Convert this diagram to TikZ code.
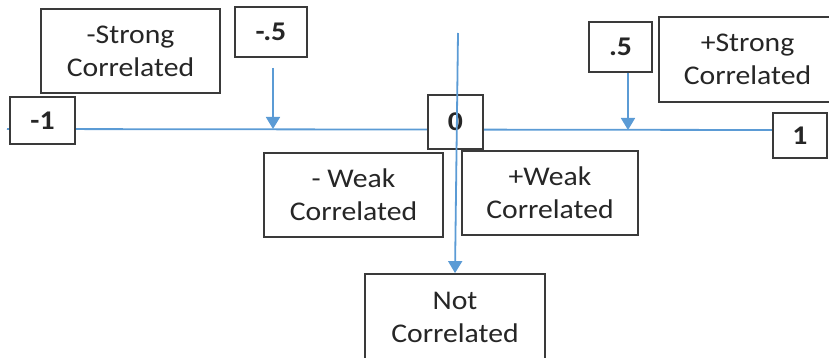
\documentclass[tikz,border=0pt]{standalone}
\usepackage{fontspec}
\setmainfont{Carlito}[FakeStretch=1.1]
\usetikzlibrary{arrows.meta}
\definecolor{lineblue}{HTML}{5B9BD5}
\definecolor{boxgray}{HTML}{3A3A3A}
\definecolor{txt}{HTML}{262626}
\tikzset{
  lbl/.style={draw=boxgray, line width=1.8pt, fill=white, text=txt, align=center,
    font=\fontsize{27}{33}\selectfont, inner sep=0pt},
  num/.style={draw=boxgray, line width=2pt, fill=white, text=txt, align=center,
    font=\fontsize{27}{30}\selectfont\bfseries, inner sep=0pt},
  axis/.style={draw=lineblue, line width=1.8pt},
  arr/.style={draw=lineblue, line width=1.8pt, -{Triangle[width=14pt,length=12pt]}},
}
\begin{document}
\begin{tikzpicture}[x=1pt,y=-1pt]
\useasboundingbox (0,0) rectangle (829,358);
% axis line (behind boxes)
\coordinate (lstart) at (7,129);
\coordinate (lend) at (775,130);
\draw[axis] (lstart) -- (lend);
% nodes
\node[lbl, minimum width=179pt, minimum height=84pt] (sneg) at (130.5,51) {-Strong\\Correlated};
\node[num, minimum width=72pt, minimum height=50pt] (mhalf) at (271,32) {-.5};
\node[num, minimum width=65pt, minimum height=47pt] (m1) at (42.5,120.5) {-1};
\node[num, minimum width=55pt, minimum height=54pt] (zero) at (455.5,122) {0};
\node[num, minimum width=63pt, minimum height=50pt] (phalf) at (620.5,47) {.5};
\node[lbl, minimum width=177pt, minimum height=85pt] (spos) at (747.5,59.5) {+Strong\\Correlated};
\node[num, minimum width=54pt, minimum height=45pt] (p1) at (800,135.5) {1};
\node[lbl, minimum width=179pt, minimum height=84pt] (wneg) at (353.5,195) {- Weak\\Correlated};
\node[lbl, minimum width=176pt, minimum height=84pt] (wpos) at (550,193) {+Weak\\Correlated};
\node[lbl, minimum width=180pt, minimum height=86pt] (notc) at (455,317) {Not\\Correlated};
% arrows
\coordinate (ma) at (273,129);
\coordinate (pa) at (628,130);
\coordinate (vtop) at (458,33);
\draw[arr] ([shift={(2,10)}]mhalf.south) -- (ma);
\draw[arr] ([xshift=7.5pt]phalf.south) -- (pa);
\draw[arr] (vtop) -- (notc.north);
\end{tikzpicture}
\end{document}
